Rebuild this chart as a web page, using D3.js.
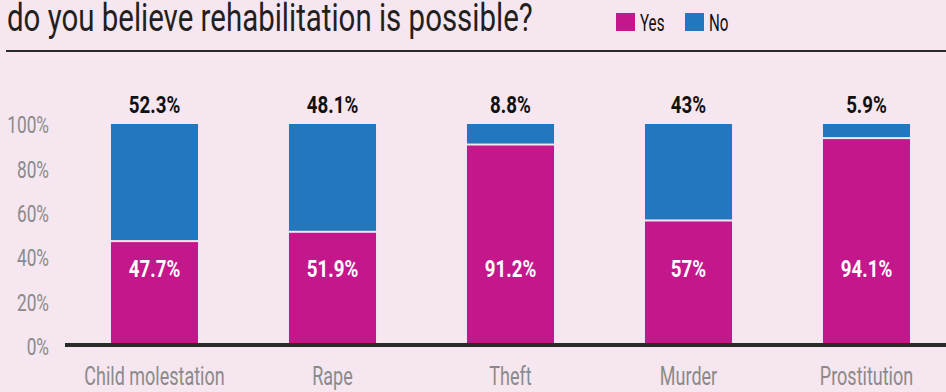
<!DOCTYPE html>
<html>
<head>
<meta charset="utf-8">
<script src="https://cdn.jsdelivr.net/npm/d3@7"></script>
<style>
  html, body { margin: 0; padding: 0; background: #f6e6f0; }
  svg { display: block; }
  text { font-family: Roboto, "Liberation Sans", sans-serif; }
</style>
</head>
<body>
<svg id="chart" width="946" height="392"></svg>
<script>
const categories = ["Child molestation", "Rape", "Theft", "Murder", "Prostitution"];
const yesValues = [47.7, 51.9, 91.2, 57, 94.1];
const noValues = [52.3, 48.1, 8.8, 43, 5.9];
const yTicks = [0, 20, 40, 60, 80, 100];
const seriesNames = ["Yes", "No"];
const seriesColors = ["#c4178c", "#2277bd"];

const svg = d3.select("#chart");
const W = 946, H = 392;

// Narrow the glyphs horizontally around each text's own x position
function condense(sel, sx) {
  sel.each(function () {
    const t = d3.select(this);
    const x0 = +(t.attr("x") || 0);
    t.attr("x", x0 / sx).attr("transform", `scale(${sx},1)`);
  });
  return sel;
}

svg.append("rect").attr("width", W).attr("height", H).attr("fill", "#f6e6f0");

// Title and rule beneath it
svg.append("text")
  .attr("x", 7).attr("y", 31)
  .attr("font-size", 38)
  .attr("fill", "#231f20")
  .text("do you believe rehabilitation is possible?")
  .call(condense, 0.775);

svg.append("line")
  .attr("x1", 6).attr("x2", W)
  .attr("y1", 51).attr("y2", 51)
  .attr("stroke", "#2a2a2a").attr("stroke-width", 2);

// Legend
const legend = svg.append("g").attr("transform", "translate(616,13)");
const legendX = [0, 69];
seriesNames.forEach((name, i) => {
  const g = legend.append("g").attr("transform", `translate(${legendX[i]},0)`);
  g.append("rect").attr("width", 19).attr("height", 18).attr("fill", seriesColors[i]);
  g.append("text").attr("x", 24).attr("y", 18).attr("font-size", 23).attr("fill", "#111").text(name)
    .call(condense, 0.66);
});

// Scales
const x = d3.scaleBand()
  .domain(categories)
  .range([65.5, 955.5])
  .paddingInner(0.511)
  .paddingOuter(0.2555);

const y = d3.scaleLinear().domain([0, 100]).range([346, 124]);

// Y axis labels
const yAxis = d3.axisLeft(y)
  .tickValues(yTicks)
  .tickFormat(d => d + "%")
  .tickSize(0)
  .tickPadding(0);

const yG = svg.append("g").attr("transform", "translate(49,0)").call(yAxis);
yG.select(".domain").remove();
yG.selectAll("text")
  .attr("font-size", 24)
  .attr("fill", "#8a8a8a")
  .attr("font-family", null)
  .attr("dy", "0.36em")
  .call(condense, 0.72);

// Bars: "No" on top, "Yes" beneath with a thin white gap between them
const rows = categories.map((c, i) => ({ cat: c, yes: yesValues[i], no: noValues[i] }));

const bars = svg.append("g");
rows.forEach(d => {
  bars.append("rect")
    .attr("x", x(d.cat)).attr("width", x.bandwidth())
    .attr("y", y(d.yes + d.no)).attr("height", y(d.yes) - y(d.yes + d.no))
    .attr("fill", seriesColors[1]);
  bars.append("rect")
    .attr("x", x(d.cat)).attr("width", x.bandwidth())
    .attr("y", y(d.yes) + 2).attr("height", y(0) - y(d.yes) - 2)
    .attr("fill", seriesColors[0]);
});

// Value labels
rows.forEach(d => {
  const cx = x(d.cat) + x.bandwidth() / 2;
  svg.append("text")
    .attr("x", cx).attr("y", 277)
    .attr("text-anchor", "middle")
    .attr("font-size", 24).attr("font-weight", "bold")
    .attr("fill", "#fff")
    .text(d.yes + "%")
    .call(condense, 0.78);
  svg.append("text")
    .attr("x", cx).attr("y", y(100) - 11)
    .attr("text-anchor", "middle")
    .attr("font-size", 24).attr("font-weight", "bold")
    .attr("fill", "#111")
    .text(d.no + "%")
    .call(condense, 0.78);
});

// X axis category labels and baseline
const xAxis = d3.axisBottom(x).tickSize(0).tickPadding(0);
const xG = svg.append("g").attr("transform", "translate(0,345)").call(xAxis);
xG.select(".domain").remove();
xG.selectAll("text")
  .attr("font-size", 25)
  .attr("fill", "#8a8a8a")
  .attr("font-family", null)
  .attr("dy", null)
  .attr("y", 40)
  .call(condense, 0.72);

svg.append("line")
  .attr("x1", 65).attr("x2", W)
  .attr("y1", 345).attr("y2", 345)
  .attr("stroke", "#2a2a2a").attr("stroke-width", 4);
</script>
</body>
</html>
